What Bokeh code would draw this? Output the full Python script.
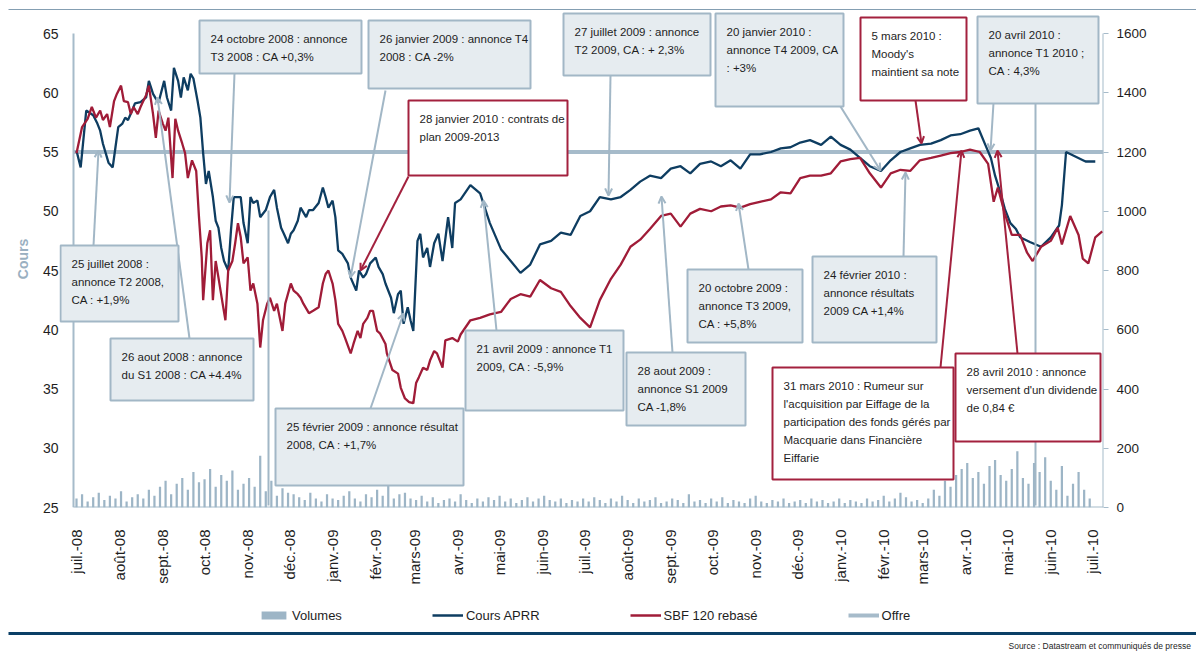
import math
from bokeh.plotting import figure
from bokeh.layouts import column
from bokeh.models import (Range1d, LinearAxis, FixedTicker, BoxAnnotation, Label,
                          Arrow, OpenHead, Legend, LegendItem)
from bokeh.embed import file_html
from bokeh.resources import INLINE

# ---------------- data ----------------
# x values: days since 1 July 2008
month_days = [0, 31, 62, 92, 123, 153, 184, 215, 243, 274, 304, 335, 365,
              396, 427, 457, 488, 518, 549, 580, 608, 639, 669, 700, 730]
month_labels = ["juil.-08", "août-08", "sept.-08", "oct.-08", "nov.-08", "déc.-08",
                "janv.-09", "févr.-09", "mars-09", "avr.-09", "mai-09", "juin-09",
                "juil.-09", "août-09", "sept.-09", "oct.-09", "nov.-09", "déc.-09",
                "janv.-10", "févr.-10", "mars-10", "avr.-10", "mai-10", "juin-10", "juil.-10"]

cours_days = [0, 3, 7, 12, 15, 17, 19, 23, 26, 28, 30, 33, 35, 37, 40, 42, 46, 50, 52, 55,
              57, 59, 63, 65, 68, 70, 73, 75, 77, 80, 82, 84, 87, 89, 91, 93, 95, 98, 100, 102,
              104, 106, 109, 111, 113, 118, 120, 123, 125, 127, 130, 132, 136, 139, 142, 144,
              147, 149, 152, 154, 156, 159, 161, 165, 167, 170, 174, 177, 179, 181, 184, 186,
              188, 191, 195, 197, 201, 203, 206, 208, 211, 215, 217, 220, 222, 226, 228, 231,
              233, 235, 238, 240, 242, 245, 247, 249, 252, 254, 257, 260, 263, 267, 270, 272,
              276, 283, 290, 297, 305, 312, 319, 326, 333, 341, 348, 355, 362, 369, 376, 384,
              391, 398, 405, 412, 420, 427, 434, 441, 448, 456, 463, 470, 477, 484, 491, 499,
              506, 513, 520, 527, 535, 542, 549, 556, 563, 570, 578, 585, 592, 599, 606, 614,
              621, 628, 635, 642, 648, 653, 657, 660, 664, 667, 671, 675, 678, 685, 693, 700,
              706, 708, 711, 718, 725, 732]
cours_values = [55.1, 53.7, 58.5, 58.1, 57.4, 56.8, 55.7, 54.1, 53.7, 55.4, 57.1, 57.4, 57.9,
                57.7, 58.5, 59.1, 59.2, 59.6, 61.0, 59.9, 59.5, 59.2, 61.0, 59.6, 58.5, 62.1,
                61.0, 59.6, 61.3, 60.2, 61.6, 61.2, 59.3, 57.9, 54.9, 52.3, 53.4, 51.2, 49.2,
                48.6, 46.9, 45.8, 45.0, 48.4, 51.2, 51.2, 49.0, 47.3, 51.2, 50.7, 50.9, 49.5,
                50.1, 51.2, 51.8, 50.3, 48.6, 48.1, 47.3, 48.1, 48.4, 49.2, 50.3, 49.5, 50.1,
                50.1, 50.7, 52.0, 51.2, 50.3, 50.9, 49.5, 46.7, 46.4, 45.6, 44.4, 43.3, 45.0,
                44.4, 44.7, 45.6, 46.1, 45.3, 44.7, 43.9, 42.7, 41.4, 43.0, 43.3, 40.5, 41.9,
                40.8, 39.9, 47.5, 48.1, 46.1, 46.9, 45.3, 47.3, 48.1, 45.8, 49.5, 46.9, 50.7,
                51.0, 52.2, 51.5, 49.0, 46.8, 45.8, 44.8, 45.5, 47.2, 47.5, 48.2, 48.0, 49.6,
                50.0, 51.2, 51.0, 51.2, 51.8, 52.5, 53.0, 52.8, 53.6, 53.8, 53.2, 54.0, 54.2,
                53.8, 54.3, 53.6, 54.8, 54.8, 55.0, 55.3, 55.4, 55.8, 56.0, 55.6, 56.3, 55.6,
                55.2, 54.5, 53.8, 53.4, 54.3, 55.0, 55.3, 55.6, 55.7, 56.0, 56.4, 56.5, 56.8,
                57.0, 55.6, 54.5, 53.0, 51.5, 50.2, 49.0, 48.5, 47.8, 47.4, 47.0, 47.8, 48.8,
                50.5, 55.0, 54.6, 54.2, 54.2]

sbf_days = [0, 4, 8, 11, 14, 17, 19, 22, 24, 27, 29, 32, 34, 37, 39, 41, 44, 46, 50, 52, 55,
            57, 59, 62, 64, 66, 69, 71, 73, 76, 78, 80, 83, 86, 88, 90, 91, 94, 96, 98, 100,
            102, 105, 107, 109, 112, 114, 116, 118, 120, 123, 125, 127, 130, 132, 134, 137,
            139, 142, 144, 148, 150, 154, 156, 159, 161, 163, 167, 170, 174, 177, 179, 181,
            184, 186, 188, 191, 193, 197, 199, 202, 204, 206, 209, 211, 213, 216, 218, 222,
            223, 227, 231, 233, 236, 239, 242, 244, 246, 249, 252, 254, 257, 259, 263, 265,
            270, 274, 276, 283, 290, 297, 305, 312, 319, 326, 333, 341, 348, 355, 362, 369,
            376, 384, 391, 398, 405, 412, 420, 427, 434, 441, 448, 456, 463, 470, 477, 484,
            491, 499, 506, 513, 520, 527, 535, 542, 549, 556, 563, 570, 578, 585, 592, 599,
            606, 614, 621, 628, 635, 642, 649, 655, 659, 662, 667, 672, 678, 683, 687, 693,
            700, 705, 708, 714, 720, 723, 727, 732, 737]
sbf_values = [54.9, 57.1, 57.8, 58.8, 57.9, 58.5, 57.7, 58.2, 57.1, 59.3, 59.9, 60.6, 59.3,
              59.2, 58.2, 58.8, 58.2, 58.8, 59.8, 60.6, 58.2, 56.2, 58.5, 57.4, 56.8, 57.9,
              52.8, 57.8, 56.8, 55.7, 54.9, 52.8, 54.3, 53.4, 49.5, 46.1, 42.5, 47.3, 48.4,
              42.5, 45.8, 44.4, 42.2, 40.8, 45.0, 45.8, 47.3, 49.0, 47.8, 45.6, 46.1, 43.3,
              43.9, 42.2, 38.5, 40.8, 42.2, 42.7, 41.6, 42.2, 39.9, 42.2, 43.9, 43.3, 43.0,
              42.7, 42.2, 41.4, 41.6, 41.9, 43.9, 44.7, 45.0, 43.9, 42.5, 40.5, 39.9, 39.3,
              38.0, 38.8, 39.9, 39.3, 40.5, 41.0, 41.6, 41.6, 39.9, 39.7, 38.8, 38.0, 36.6,
              36.3, 35.1, 34.2, 33.9, 33.8, 35.5, 36.0, 36.8, 36.6, 37.4, 38.2, 38.0, 36.8,
              39.1, 39.3, 39.0, 39.6, 40.8, 41.0, 41.3, 41.5, 42.6, 43.0, 42.8, 44.2, 43.5,
              43.2, 42.0, 41.0, 40.2, 42.5, 44.3, 45.5, 47.0, 47.6, 48.5, 49.6, 49.8, 48.7,
              49.8, 50.2, 50.0, 50.4, 50.5, 50.3, 50.6, 50.8, 51.0, 51.6, 51.5, 52.8, 53.0,
              53.0, 53.2, 54.2, 54.4, 54.5, 53.2, 52.0, 53.2, 53.5, 53.4, 54.3, 54.5, 54.7,
              54.9, 55.0, 55.2, 55.0, 54.0, 50.8, 52.0, 49.8, 48.0, 48.0, 46.5, 45.8, 47.0,
              47.5, 48.6, 47.2, 49.6, 48.0, 46.0, 45.6, 47.8, 48.3]

vol_days = list(range(0, 732, 4))
vol_values = [30, 45, 20, 35, 50, 25, 40, 30, 55, 20, 35, 45, 30, 60, 40,
              70, 90, 45, 80, 100, 60, 120, 85, 95, 130, 70, 110,
              90, 125, 60, 80, 100, 70, 175, 55, 90, 40, 65, 50, 45,
              35, 25, 50, 30, 20, 45, 30, 25, 40, 55, 30, 20, 45, 35, 60, 40, 75, 30, 45, 50, 30,
              25, 40, 20, 35, 15, 25, 30, 20, 45, 25, 15, 30, 20, 35, 25, 40, 20, 30, 15, 25,
              35, 20, 30, 40, 25, 20, 30, 15, 25, 20, 30,
              20, 35, 25, 15, 30, 20, 40, 25, 15, 30, 20, 25, 35, 15, 20, 30, 25, 15, 45, 20,
              25, 15, 30, 20, 35, 15, 25, 20, 15, 30, 40, 20, 15, 25, 20, 30, 15, 20, 25, 15,
              30, 20, 25, 15, 20, 30, 15, 25, 20, 15, 30, 20, 25, 40, 20, 30, 50, 35, 20, 25,
              15, 30,
              60, 40, 90, 70, 110, 130, 150, 100, 120, 80, 140, 160, 110, 90, 130, 190, 100,
              80, 150, 120, 170, 90, 60, 140, 40, 80, 120, 60, 30]

offre_price = 55

series_labels = ["Volumes", "Cours APRR", "SBF 120 rebasé", "Offre"]
source_text = "Source  : Datastream et communiqués de presse"

annotations = [
    ("blue", (199, 20, 361, 73), ["24 octobre 2008 : annonce", "T3 2008 : CA +0,3%"]),
    ("blue", (368, 20, 530, 88), ["26 janvier 2009 : annonce T4", "2008 : CA -2%"]),
    ("red", (408, 100, 567, 175), ["28 janvier 2010 : contrats de", "plan 2009-2013"]),
    ("blue", (563, 13, 710, 75), ["27 juillet 2009 : annonce", "T2 2009, CA : + 2,3%"]),
    ("blue", (715, 13, 843, 106), ["20 janvier 2010 :", "annonce T4 2009, CA", ": +3%"]),
    ("red", (860, 17, 966, 100), ["5 mars 2010 :", "Moody's", "maintient sa note"]),
    ("blue", (977, 16, 1098, 103), ["20 avril 2010 :", "annonce T1 2010 ;", "CA : 4,3%"]),
    ("blue", (60, 245, 178, 321), ["25 juillet 2008 :", "annonce T2 2008,", "CA : +1,9%"]),
    ("blue", (110, 338, 253, 400), ["26 aout 2008 : annonce", "du S1 2008 : CA +4.4%"]),
    ("blue", (275, 408, 463, 485), ["25 février 2009 : annonce résultat", "2008, CA : +1,7%"]),
    ("blue", (465, 330, 623, 410), ["21 avril 2009 : annonce T1", "2009, CA : -5,9%"]),
    ("blue", (626, 352, 745, 425), ["28 aout 2009 :", "annonce S1 2009", "CA -1,8%"]),
    ("blue", (687, 269, 802, 342), ["20 octobre 2009 :", "annonce T3 2009,", "CA : +5,8%"]),
    ("blue", (812, 256, 936, 342), ["24 février 2010 :", "annonce résultats", "2009 CA +1,4%"]),
    ("red", (772, 367, 953, 479), ["31 mars 2010 : Rumeur sur", "l'acquisition par Eiffage de la",
                                   "participation des fonds gérés par", "Macquarie dans Financière",
                                   "Eiffarie"]),
    ("red", (955, 353, 1100, 441), ["28 avril 2010 : annonce", "versement d'un dividende",
                                    "de 0,84 €"]),
]

leaders = [  # (kind, start px, end px, arrow)
    ("blue", (234, 73), (229, 202), True),
    ("blue", (385, 90), (350, 277), True),
    ("red", (408, 176), (360, 270), True),
    ("blue", (610, 75), (608, 195), True),
    ("blue", (840, 106), (880, 170), True),
    ("red", (915, 100), (921, 143), True),
    ("blue", (993, 103), (990, 150), True),
    ("blue", (1035, 103), (1035, 505), False),
    ("blue", (93, 245), (98, 150), True),
    ("blue", (189, 338), (157, 97), True),
    ("blue", (370, 408), (403, 313), True),
    ("blue", (496, 330), (483, 200), True),
    ("blue", (672, 352), (661, 196), True),
    ("blue", (748, 269), (738, 203), True),
    ("blue", (903, 256), (905, 172), True),
    ("red", (940, 367), (961, 150), True),
    ("red", (1017, 353), (997, 150), True),
    ("blue", (268, 210), (268, 505), False),
]

# ---------------- style ----------------
FONT = "Liberation Sans"
BLUE = "#0E3D61"
RED = "#A01C38"
STEEL = "#A6BBCA"
VOLC = "#9DB5C6"
BOXFILL = "#E6ECF0"
BOXLINE = "#A2B7C6"
REDBOX = "#A3213E"
NAVY = "#0A3F66"
TXT = "#1E1E1E"

W = 1196
HEAD_H = 10           # page y 0..10   : top rule
MAIN_H = 590          # page y 10..600 : chart
FOOT_H = 51           # page y 600..651: legend, rule, source
FL, FR, FT, FB = 59, 1103, 10, 507   # frame edges in page px


def dx(px):
    return (px - 76) * 730 / 1016


def vy(py):
    return 25 + (FB - py) * 40 / 474


def bare(fig):
    fig.outline_line_color = None
    fig.background_fill_color = "white"
    fig.border_fill_color = "white"
    fig.grid.visible = False
    if "frame_align" in fig.properties():
        fig.frame_align = False
    return fig


# ---- header strip (top rule) ----
head = bare(figure(width=W, height=HEAD_H, output_backend="svg", toolbar_location=None,
                   x_range=Range1d(0, W), y_range=Range1d(HEAD_H, 0),
                   x_axis_location=None, y_axis_location=None,
                   min_border=0, min_border_left=0, min_border_right=0,
                   min_border_top=0, min_border_bottom=0))
head.quad(left=[8], right=[W], top=[7], bottom=[10], fill_color=NAVY, line_color=None)

# ---- main chart ----
p = bare(figure(width=W, height=MAIN_H, output_backend="svg", toolbar_location=None,
                x_range=Range1d(dx(FL), dx(FR)), y_range=Range1d(25, vy(FT)),
                min_border_left=FL, min_border_right=W - FR, min_border_top=0,
                min_border_bottom=HEAD_H + MAIN_H - FB))
p.extra_y_ranges = {"vol": Range1d(0, (FB - FT) * 1600 / 474)}

ya = p.yaxis[0]
ya.ticker = FixedTicker(ticks=[25, 30, 35, 40, 45, 50, 55, 60, 65])
ya.axis_line_color = None
ya.major_tick_line_color = None
ya.major_tick_out = 0
ya.major_tick_in = 0
ya.minor_tick_line_color = None
ya.major_label_standoff = 1
ya.major_label_text_font = FONT
ya.major_label_text_font_size = "14px"
ya.major_label_text_color = TXT
ya.axis_label = "Cours"
ya.axis_label_text_font = FONT
ya.axis_label_text_font_style = "bold"
ya.axis_label_text_font_size = "14px"
ya.axis_label_text_color = "#9AB0C1"
ya.axis_label_standoff = 9

ra = LinearAxis(y_range_name="vol", ticker=FixedTicker(ticks=list(range(0, 1601, 200))))
ra.axis_line_color = None
ra.major_tick_line_color = STEEL
ra.major_tick_out = 5
ra.major_tick_in = 0
ra.minor_tick_line_color = None
ra.major_label_standoff = 8
ra.major_label_text_font = FONT
ra.major_label_text_font_size = "13.5px"
ra.major_label_text_color = TXT
p.add_layout(ra, "right")

xa = p.xaxis[0]
xa.ticker = FixedTicker(ticks=month_days)
xa.major_label_overrides = {d: l for d, l in zip(month_days, month_labels)}
xa.major_label_orientation = math.pi / 2
xa.axis_line_color = None
xa.major_tick_line_color = None
xa.minor_tick_line_color = None
xa.major_label_standoff = 16
xa.major_label_text_font = FONT
xa.major_label_text_font_size = "15px"
xa.major_label_text_color = TXT

x_left_axis = dx(73)
x_right_axis = dx(FR)
p.segment(x0=[x_left_axis], y0=[25], x1=[x_left_axis], y1=[65], line_color=STEEL, line_width=2)
p.segment(x0=[x_right_axis], y0=[25], x1=[x_right_axis], y1=[65], line_color=STEEL, line_width=2)
p.segment(x0=[x_left_axis], y0=[25], x1=[x_right_axis], y1=[25], line_color=STEEL, line_width=2)

p.vbar(x=vol_days, top=vol_values, width=1.6, y_range_name="vol",
       fill_color=VOLC, line_color=None)
p.line([x_left_axis, x_right_axis], [offre_price, offre_price], line_color=STEEL, line_width=4)
p.line(cours_days, cours_values, line_color=BLUE, line_width=2.3)
p.line(sbf_days, sbf_values, line_color=RED, line_width=2.3)

for kind, (x0, y0), (x1, y1), head_on in leaders:
    col = BOXLINE if kind == "blue" else REDBOX
    end = OpenHead(size=7, line_color=col, line_width=2) if head_on else None
    p.add_layout(Arrow(x_start=dx(x0), y_start=vy(y0), x_end=dx(x1), y_end=vy(y1),
                       line_color=col, line_width=2, end=end))

for kind, (l, t, r, b), lines in annotations:
    if kind == "blue":
        fill, line = BOXFILL, BOXLINE
    else:
        fill, line = "white", REDBOX
    p.add_layout(BoxAnnotation(left=dx(l), right=dx(r), top=vy(t), bottom=vy(b),
                               fill_color=fill, fill_alpha=1, line_color=line,
                               line_alpha=1, line_width=2))
    for i, txt in enumerate(lines):
        p.add_layout(Label(x=dx(l + 11), y=vy(t + 18 + 18 * i), text=txt,
                           text_font=FONT, text_font_size="11.5px",
                           text_color=TXT, text_baseline="middle", text_align="left"))

# ---- footer: legend, rule, source ----
foot = bare(figure(width=W, height=FOOT_H, output_backend="svg", toolbar_location=None,
                   x_range=Range1d(0, W), y_range=Range1d(651, 600),
                   x_axis_location=None, y_axis_location=None,
                   min_border=0, min_border_left=0, min_border_right=0,
                   min_border_top=0, min_border_bottom=0))
# the same series again, on a range that keeps them off the footer,
# only so that the legend has its swatches
foot.extra_y_ranges = {"series": Range1d(1000, 2000)}
k_vol = foot.vbar(x=vol_days, top=vol_values, width=1, fill_color=VOLC, line_color=None,
                  y_range_name="series")
k_cours = foot.line(cours_days, cours_values, line_color=BLUE, line_width=2.5,
                    y_range_name="series")
k_sbf = foot.line(sbf_days, sbf_values, line_color=RED, line_width=2.5,
                  y_range_name="series")
k_offre = foot.line([0, 730], [offre_price, offre_price], line_color=STEEL, line_width=4,
                    y_range_name="series")
legend = Legend(items=[LegendItem(label=series_labels[0], renderers=[k_vol]),
                       LegendItem(label=series_labels[1], renderers=[k_cours]),
                       LegendItem(label=series_labels[2], renderers=[k_sbf]),
                       LegendItem(label=series_labels[3], renderers=[k_offre])],
                location=(258, 28), orientation="horizontal", padding=0, margin=0,
                spacing=90, glyph_width=31, glyph_height=10, label_height=16,
                label_standoff=3, border_line_color=None, background_fill_alpha=0,
                label_text_font=FONT, label_text_font_size="13px", label_text_color=TXT)
foot.add_layout(legend)
foot.quad(left=[8], right=[W], top=[631.5], bottom=[634.5], fill_color=NAVY, line_color=None)
foot.add_layout(Label(x=1008, y=645, text=source_text, text_font=FONT,
                      text_font_size="8.5px", text_color=TXT, text_baseline="middle",
                      text_align="left"))

layout = column(head, p, foot, spacing=0)
open("out.html", "w").write(file_html(layout, INLINE))
